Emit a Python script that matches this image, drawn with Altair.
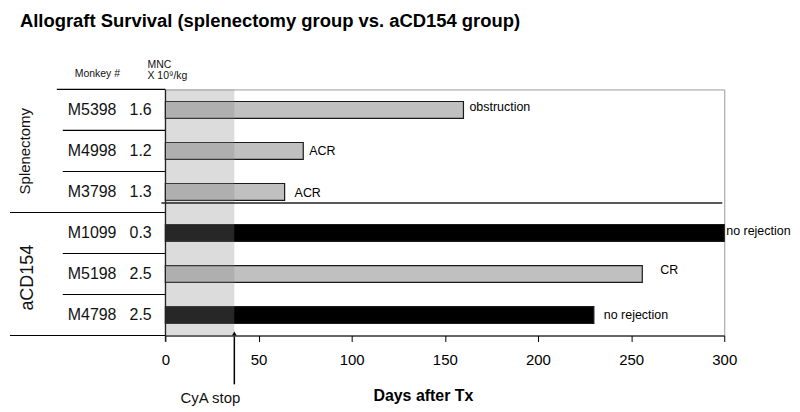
import altair as alt
import pandas as pd

# ---- data ----
monkeys = ["M5398", "M4998", "M3798", "M1099", "M5198", "M4798"]
mnc = ["1.6", "1.2", "1.3", "0.3", "2.5", "2.5"]
groups = ["Splenectomy", "Splenectomy", "Splenectomy", "aCD154", "aCD154", "aCD154"]
days = [160, 74, 64, 300, 256, 230]
outcome = ["obstruction", "ACR", "ACR", "no rejection", "CR", "no rejection"]
status = ["rejection", "rejection", "rejection", "no rejection", "rejection", "no rejection"]
cya_stop = 37
x_ticks = [0, 50, 100, 150, 200, 250, 300]

FONT = "Liberation Sans"
W, H = 561, 247

df = pd.DataFrame({"monkey": monkeys, "mnc": mnc, "group": groups,
                   "days": days, "outcome": outcome, "status": status})

x_scale = alt.Scale(domain=[0, 300], nice=False, zero=True)
x_axis = alt.Axis(values=x_ticks, title=None, grid=False, tickSize=6,
                  labelFontSize=15, labelFont=FONT, labelColor="#000",
                  labelFlush=False, labelOverlap=False,
                  domainColor="#000", tickColor="#000", labelPadding=11,
                  domainWidth=1.2, tickWidth=1)
y_scale = alt.Scale(domain=monkeys, paddingInner=0, paddingOuter=0)


def x_enc(field):
    return alt.X(field, scale=x_scale, axis=x_axis)


def y_enc(**kw):
    return alt.Y("monkey:N", sort=monkeys, axis=None, scale=y_scale, **kw)


base = alt.Chart(df)

bars = base.mark_bar(height=17, stroke="#1a1a1a", strokeWidth=1.2).encode(
    x=x_enc("days:Q"),
    y=y_enc(),
    color=alt.Color("status:N", legend=None,
                    scale=alt.Scale(domain=["rejection", "no rejection"],
                                    range=["#c0c0c0", "#000000"])),
)

cya_df = pd.DataFrame({"start": [0], "day": [cya_stop]})
shade = alt.Chart(cya_df).mark_rect(color="#888888", opacity=0.29).encode(
    x=x_enc("start:Q"), x2="day:Q",
    y=alt.value(0), y2=alt.value(H))

# annotation offsets (style only)
ann_offsets = {"M5398": (6, -3), "M4998": (6, 0), "M3798": (10, 1),
               "M1099": (2, -2), "M5198": (18, -4), "M4798": (10, 0)}
ann_layers = []
for m in monkeys:
    dx, dy = ann_offsets[m]
    ann_layers.append(
        base.transform_filter(alt.datum.monkey == m)
        .mark_text(align="left", baseline="middle", dx=dx, dy=dy, fontSize=12.5,
                   font=FONT, color="#000")
        .encode(x=x_enc("days:Q"), y=y_enc(), text="outcome:N"))

names = base.mark_text(align="left", baseline="middle", fontSize=16, font=FONT,
                       color="#111").encode(x=alt.value(-98), y=y_enc(), text="monkey:N")
vals = base.mark_text(align="left", baseline="middle", fontSize=16, font=FONT,
                      color="#111").encode(x=alt.value(-36), y=y_enc(), text="mnc:N")

short_sep = base.transform_filter(
    alt.FieldOneOfPredicate(field="monkey", oneOf=["M5398", "M4998", "M1099", "M5198"])
).mark_rule(color="#000", strokeWidth=1.2).encode(
    y=y_enc(bandPosition=1), x=alt.value(-103), x2=alt.value(0))
long_sep = base.transform_filter(
    alt.FieldOneOfPredicate(field="monkey", oneOf=["M3798", "M4798"])
).mark_rule(color="#000", strokeWidth=1.2).encode(
    y=y_enc(bandPosition=1), x=alt.value(-156), x2=alt.value(0))

one = alt.Chart(pd.DataFrame({"a": [0]}))
top_line = one.mark_rule(color="#000", strokeWidth=1.2).encode(
    y=alt.value(0), x=alt.value(-109), x2=alt.value(0))
left_line = one.mark_rule(color="#222", strokeWidth=1.2).encode(
    x=alt.value(0), y=alt.value(0), y2=alt.value(H + 6))
group_line = one.mark_rule(color="#222", strokeWidth=1.5).encode(
    y=alt.value(114), x=alt.value(-4), x2=alt.value(W - 2))

arrow = alt.Chart(cya_df).mark_rule(color="#000", strokeWidth=1.5).encode(
    x=x_enc("day:Q"), y=alt.value(H + 49), y2=alt.value(H + 1))
arrow_head = alt.Chart(cya_df).mark_point(shape="triangle-up", filled=True, size=22,
                                          color="#000", opacity=1).encode(
    x=x_enc("day:Q"), y=alt.value(H - 2))
cya_text = alt.Chart(cya_df).mark_text(text="CyA stop", fontSize=15, font=FONT,
                                       align="center", baseline="middle", dx=-24,
                                       color="#111").encode(
    x=x_enc("day:Q"), y=alt.value(310))

x_title = one.mark_text(text="Days after Tx", fontSize=16, fontWeight="bold", font=FONT,
                        align="center", baseline="middle", color="#000").encode(
    x=alt.value(259), y=alt.value(308))
title = one.mark_text(text="Allograft Survival (splenectomy group vs. aCD154 group)",
                      fontSize=18.5, fontWeight="bold", font=FONT, align="left",
                      baseline="middle", color="#000").encode(
    x=alt.value(-146), y=alt.value(-69))
hdr1 = one.mark_text(text="Monkey #", fontSize=10.5, font=FONT, align="left",
                     baseline="middle", color="#111").encode(x=alt.value(-91), y=alt.value(-16))
hdr2 = one.mark_text(text="MNC", fontSize=10.5, font=FONT, align="left",
                     baseline="middle", color="#111").encode(x=alt.value(-18), y=alt.value(-25))
hdr3 = one.mark_text(text="X 10⁹/kg", fontSize=10.5, font=FONT, align="left",
                     baseline="middle", color="#111").encode(x=alt.value(-18), y=alt.value(-13))
g1 = one.mark_text(text="Splenectomy", fontSize=15, font=FONT, angle=270, align="center",
                   baseline="middle", color="#111").encode(x=alt.value(-141), y=alt.value(62))
g2 = one.mark_text(text="aCD154", fontSize=18, font=FONT, angle=270, align="center",
                   baseline="middle", color="#111").encode(x=alt.value(-138), y=alt.value(189))

chart = alt.layer(
    bars, shade, *ann_layers, names, vals, short_sep, long_sep, top_line,
    left_line, group_line, arrow, arrow_head, cya_text, x_title, title,
    hdr1, hdr2, hdr3, g1, g2,
).properties(
    width=W, height=H,
    padding={"left": 158, "top": 81, "right": 68, "bottom": 72},
    autosize=alt.AutoSizeParams(type="none"),
).configure_view(stroke="#999999", strokeWidth=1)

chart.save("out.html", embed_options={"renderer": "svg", "actions": False})
